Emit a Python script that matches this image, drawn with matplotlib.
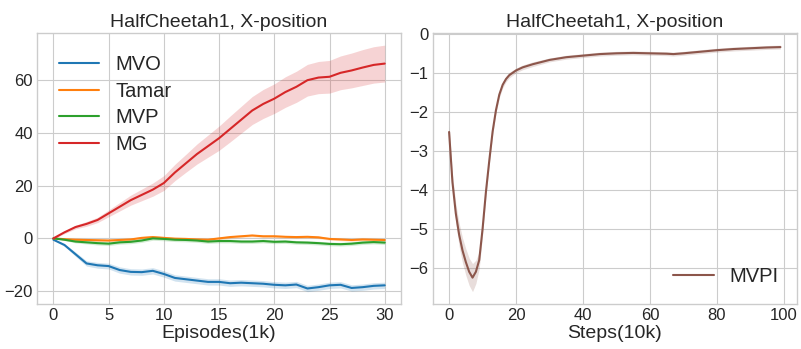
import numpy as np
import matplotlib
matplotlib.use("Agg")
from matplotlib import pyplot as plt

plt.style.use("seaborn-v0_8-whitegrid")
plt.rcParams["font.family"] = ["Liberation Sans", "DejaVu Sans"]

# left panel: x-position per 1k episodes
episodes = list(range(31))
mvo = [-0.5, -2.5, -6, -9.5, -10.2, -10.5, -12, -12.7, -12.8, -12.3, -13.5,
       -15, -15.5, -16, -16.5, -16.5, -17, -16.8, -17, -17.2, -17.6,
       -17.8, -17.5, -19, -18.5, -17.8, -17.6, -18.8, -18.5, -18, -17.8]
mvo_sd = [0.2, 0.5, 0.8, 1.0, 1.1, 1.1, 1.2, 1.2, 1.2, 1.2, 1.2,
          1.2, 1.2, 1.2, 1.2, 1.2, 1.2, 1.2, 1.2, 1.2, 1.2,
          1.2, 1.2, 1.2, 1.2, 1.2, 1.2, 1.2, 1.2, 1.2, 1.2]
tamar = [0, -0.3, -0.5, -0.6, -0.7, -0.8, -0.6, -0.4, 0.2, 0.5, 0.2,
         -0.1, -0.2, -0.4, -0.5, 0, 0.5, 0.8, 1.1, 0.8, 0.8,
         0.6, 0.5, 0.6, 0.4, -0.2, -0.4, -0.6, -0.4, -0.5, -0.6]
tamar_sd = [0.1, 0.3, 0.4, 0.5, 0.5, 0.5, 0.5, 0.5, 0.5, 0.5, 0.5,
            0.5, 0.5, 0.5, 0.5, 0.5, 0.5, 0.5, 0.5, 0.5, 0.5,
            0.5, 0.5, 0.5, 0.5, 0.5, 0.5, 0.5, 0.5, 0.5, 0.5]
mvp = [0, -0.5, -1.2, -1.5, -1.8, -2, -1.5, -1.3, -0.8, 0, -0.2,
       -0.5, -0.6, -0.8, -1.2, -1, -1, -1.2, -1.2, -1, -1.3,
       -1.2, -1.5, -1.6, -1.8, -2.1, -2.2, -2, -1.6, -1.4, -1.6]
mvp_sd = [0.1, 0.3, 0.5, 0.6, 0.7, 0.7, 0.7, 0.7, 0.7, 0.7, 0.7,
          0.7, 0.7, 0.7, 0.7, 0.7, 0.7, 0.7, 0.7, 0.7, 0.7,
          0.7, 0.7, 0.7, 0.7, 0.7, 0.7, 0.7, 0.7, 0.7, 0.7]
mg = [0, 2.3, 4.3, 5.5, 7, 9.5, 12, 14.5, 16.5, 18.5, 21,
      25, 28.5, 32, 35, 38, 41.5, 45, 48.5, 51, 53,
      55.5, 57.5, 60, 61, 61.3, 62.8, 63.7, 64.8, 65.8, 66.3]
mg_sd = [0.2, 0.5, 0.7, 0.9, 1.0, 1.3, 1.6, 1.9, 2.2, 2.5, 2.8,
         3.1, 3.4, 3.8, 4.2, 4.6, 4.9, 5.1, 5.3, 5.5, 5.6,
         5.8, 5.9, 6.0, 6.1, 6.2, 6.4, 6.6, 6.8, 6.9, 7.0]

# right panel: MVPI x-position per 10k steps
steps = [0, 1, 2, 3, 4, 5, 6, 7, 8, 9, 10, 11, 12, 13, 14, 15, 16, 17, 18,
         20, 22, 25, 30, 35, 40, 45, 50, 55, 60, 65, 67, 70, 75, 80, 85, 90, 95, 99]
mvpi = [-2.51, -3.8, -4.6, -5.15, -5.55, -5.85, -6.1, -6.25, -6.1, -5.8, -5.0,
        -4.05, -3.25, -2.5, -1.95, -1.55, -1.3, -1.15, -1.05,
        -0.93, -0.85, -0.77, -0.66, -0.59, -0.55, -0.51, -0.49, -0.48, -0.49,
        -0.5, -0.51, -0.49, -0.45, -0.41, -0.38, -0.36, -0.34, -0.33]
mvpi_sd = [0.15, 0.2, 0.25, 0.3, 0.32, 0.34, 0.35, 0.36, 0.3, 0.22, 0.15,
           0.12, 0.1, 0.09, 0.08, 0.08, 0.08, 0.07, 0.07,
           0.06, 0.06, 0.06, 0.05, 0.05, 0.05, 0.05, 0.05, 0.05, 0.05,
           0.05, 0.05, 0.05, 0.05, 0.05, 0.05, 0.05, 0.05, 0.05]

title = "HalfCheetah1, X-position"

fig = plt.figure(figsize=(8.01, 3.49), dpi=100)
ax1 = fig.add_axes([0.046, 0.129, 0.455, 0.777])
ax2 = fig.add_axes([0.540, 0.129, 0.455, 0.777])


def band(ax, x, y, sd, color, label):
    x = np.array(x)
    y = np.array(y)
    sd = np.array(sd)
    ax.plot(x, y, color=color, lw=1.5, label=label)
    ax.fill_between(x, y - sd, y + sd, color=color, alpha=0.2, lw=0)


band(ax1, episodes, mvo, mvo_sd, "tab:blue", "MVO")
band(ax1, episodes, tamar, tamar_sd, "tab:orange", "Tamar")
band(ax1, episodes, mvp, mvp_sd, "tab:green", "MVP")
band(ax1, episodes, mg, mg_sd, "tab:red", "MG")
ax1.set_xticks([0, 5, 10, 15, 20, 25, 30])
ax1.set_yticks([-20, 0, 20, 40, 60])
ax1.set_title(title, fontsize=14, pad=4)
ax1.set_xlabel("Episodes(1k)", fontsize=14, labelpad=1)
ax1.legend(loc="upper left", fontsize=14.5, frameon=False, labelspacing=0.38,
           borderaxespad=0.7)

band(ax2, steps, mvpi, mvpi_sd, "tab:brown", "MVPI")
ax2.set_xticks([0, 20, 40, 60, 80, 100])
ax2.set_yticks([-6, -5, -4, -3, -2, -1, 0])
ax2.set_title(title, fontsize=14, pad=4)
ax2.set_xlabel("Steps(10k)", fontsize=14, labelpad=1)
ax2.legend(loc="lower right", fontsize=14.5, frameon=False)

for ax in (ax1, ax2):
    ax.tick_params(labelsize=12, pad=3)

plt.savefig("out.png", dpi=100)
